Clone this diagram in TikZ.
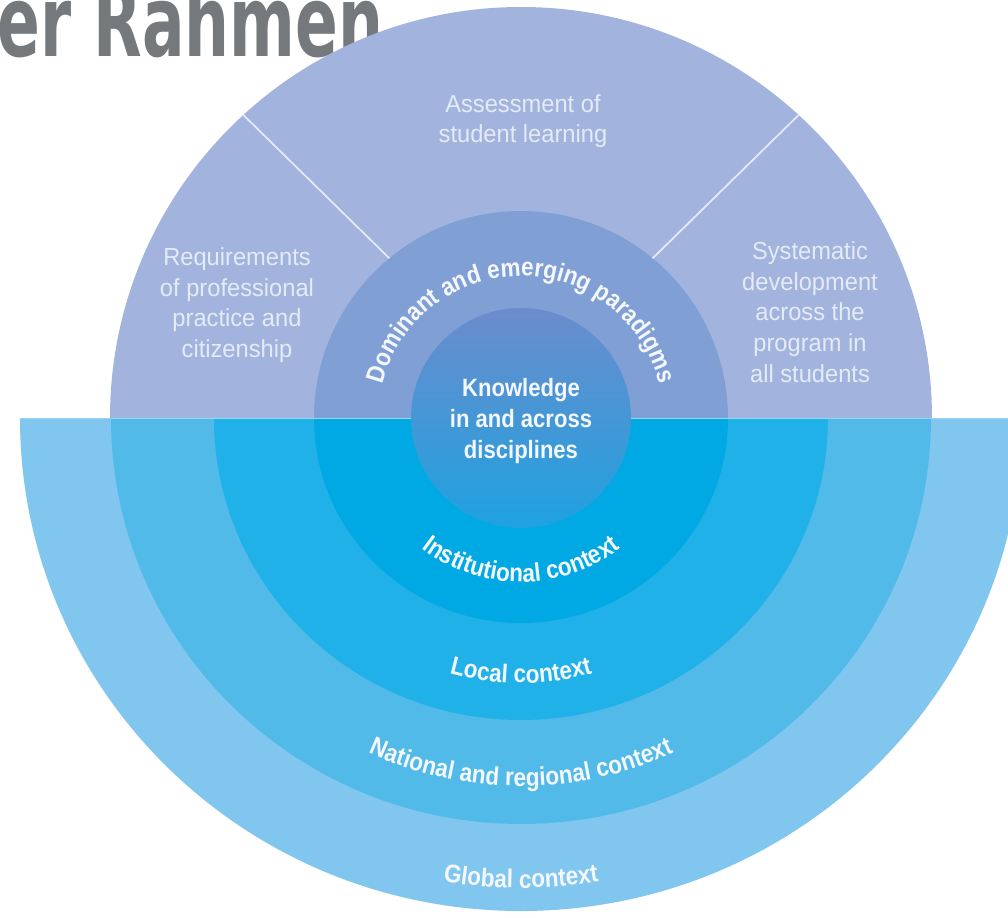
\documentclass[tikz,border=0pt]{standalone}
\usepackage{fontspec}
\setmainfont{Liberation Sans}
\newfontfamily\sectorfont[FakeStretch=0.96]{Liberation Sans}
\newfontfamily\corefont[FakeStretch=0.88]{Liberation Sans}
\newfontfamily\titlefont[FakeStretch=0.64]{DejaVu Sans}
\usetikzlibrary{decorations.text}

\definecolor{lavender}{RGB}{162,180,221}
\definecolor{paradigm}{RGB}{128,159,213}
\definecolor{knowtop}{RGB}{108,140,204}
\definecolor{knowmid}{RGB}{82,150,214}
\definecolor{knowbot}{RGB}{30,162,224}
\definecolor{instblue}{RGB}{0,169,227}
\definecolor{localblue}{RGB}{32,177,232}
\definecolor{natblue}{RGB}{82,186,233}
\definecolor{globblue}{RGB}{128,198,238}
\definecolor{seamblue}{RGB}{150,214,245}
\definecolor{sectorwhite}{RGB}{228,234,246}
\definecolor{labelwhite}{RGB}{244,247,252}
\definecolor{titlegrey}{RGB}{117,121,124}

\tikzset{every picture/.style={line width=0.75pt}}
\tikzset{
  sectorlabel/.style={align=center, text=sectorwhite, inner sep=0.75pt,
    font=\sectorfont\fontsize{18.5}{23}\selectfont},
  corelabel/.style={align=center, text=labelwhite, inner sep=0.75pt,
    font=\corefont\bfseries\fontsize{18.8}{23}\selectfont},
  divider/.style={sectorwhite, line width=1.3pt},
  curvelabel/.style={decorate, decoration={text along path, text align=center,
    text color=labelwhite, text={|\corefont\bfseries\fontsize{19.2}{22}\selectfont|#1}}}
}

\begin{document}
\begin{tikzpicture}[x=0.75pt,y=0.75pt]
%set diagram: origin at the centre of the rings
\fill[white] (-521,-500) rectangle (487,418);
\useasboundingbox (-521,-500) rectangle (487,418);
\coordinate (O) at (0,0);

% Title Text
\node (title) [anchor=base west, inner sep=0pt, text=titlegrey,
  font=\titlefont\bfseries\fontsize{74}{80}\selectfont] at (-524,361) {er Rahmen};

%Shape: Half Circle (upper, outcomes)
\fill[lavender] (O) ++(-411,0) arc[start angle=180, end angle=0, radius=411] -- cycle;
%Shape: Half Circle (paradigms)
\fill[paradigm] (O) ++(-207,0) arc[start angle=180, end angle=0, radius=207] -- cycle;
%Straight Lines (sector borders)
\draw[divider] (129.5:207) -- (132.5:411);
\draw[divider] (50.5:207) -- (47.5:411);

%Shape: Half Ellipse (global)
\fill[globblue] (O) ++(-501,0) arc[start angle=180, end angle=360, x radius=501, y radius=493] -- cycle;
%Shape: Half Circle (national)
\fill[natblue] (O) ++(-410,0) arc[start angle=180, end angle=360, x radius=410, y radius=406] -- cycle;
%Shape: Half Circle (local)
\fill[localblue] (O) ++(-307,0) arc[start angle=180, end angle=360, x radius=307, y radius=302] -- cycle;
%Shape: Half Circle (institutional)
\fill[instblue] (O) ++(-207,0) arc[start angle=180, end angle=360, x radius=207, y radius=205] -- cycle;
%Straight Lines (seam)
\draw[seamblue, line width=1.2pt] (-501,-0.5) -- (487,-0.5);

%Shape: Circle (knowledge)
\shade[top color=knowtop, middle color=knowmid, bottom color=knowbot] (O) circle[radius=110];

% Text Node
\node (assess) [sectorlabel] at (2,297) {Assessment of\\student learning};
% Text Node
\node (require) [sectorlabel] at (-284,113) {Requirements\\of professional\\practice and\\citizenship};
% Text Node
\node (system) [sectorlabel] at (289,106) {Systematic\\development\\across the\\program in\\all students};
% Text Node
\node (know) [corelabel] at (0,-3) {Knowledge\\in and across\\disciplines};

% Curved Text
\path[curvelabel={Dominant and emerging paradigms}] (178:142) arc[start angle=178, end angle=2, radius=142];
\path[curvelabel={Institutional context}] (200:164) arc[start angle=200, end angle=340, radius=164];
\path[curvelabel={Local context}] (220:265) arc[start angle=220, end angle=320, radius=265];
\path[curvelabel={National and regional context}] (205:368) arc[start angle=205, end angle=335, radius=368];
\path[curvelabel={Global context}] (235:470) arc[start angle=235, end angle=305, radius=470];

\end{tikzpicture}
\end{document}
